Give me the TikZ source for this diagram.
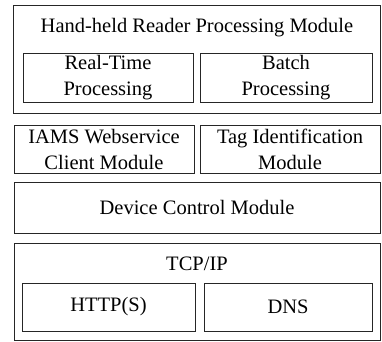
\documentclass[tikz,border=0pt]{standalone}
\usepackage{fontspec}
\setmainfont{Liberation Serif}
\begin{document}
\begin{tikzpicture}[x=1pt,y=-1pt,
  box/.style={draw=black!85,line width=0.8pt,inner sep=0pt,minimum width=#1},
  txt/.style={font=\fontsize{20.5}{26}\selectfont,align=center,inner sep=0pt}]
\useasboundingbox (0,0) rectangle (382,341);
% top module
\node[box=367pt,minimum height=108pt] (outer1) at (196.5,59) {};
\node[txt] (title1) at (197,28) {Hand-held Reader Processing Module};
\node[box=170pt,minimum height=49pt] (rt) at (108,77.5) {};
\node[txt] (rtt) at (rt.center) {Real-Time\\Processing};
\node[box=172pt,minimum height=49pt] (batch) at (286,77.5) {};
\node[txt] (batcht) at (batch.center) {Batch\\Processing};
% second row
\node[box=180pt,minimum height=48pt] (iams) at (104,149) {};
\node[txt] (iamst) at (iams.center) {IAMS Webservice\\Client Module};
\node[box=180pt,minimum height=48pt] (tag) at (290,149) {};
\node[txt] (tagt) at (tag.center) {Tag Identification\\Module};
% device
\node[box=366pt,minimum height=51pt] (device) at (197,207.5) {};
\node[txt] (devicet) at (device.center) {Device Control Module};
% tcp
\node[box=366pt,minimum height=97pt] (tcp) at (197,291.5) {};
\node[txt] (tcpt) at (197,264) {TCP/IP};
\node[box=173pt,minimum height=48pt] (http) at (108.5,307) {};
\node[txt] (httpt) at (http.center) {HTTP(S)};
\node[box=168pt,minimum height=48pt] (dns) at (288,307) {};
\node[txt] (dnst) at (dns.center) {DNS};
\end{tikzpicture}
\end{document}
